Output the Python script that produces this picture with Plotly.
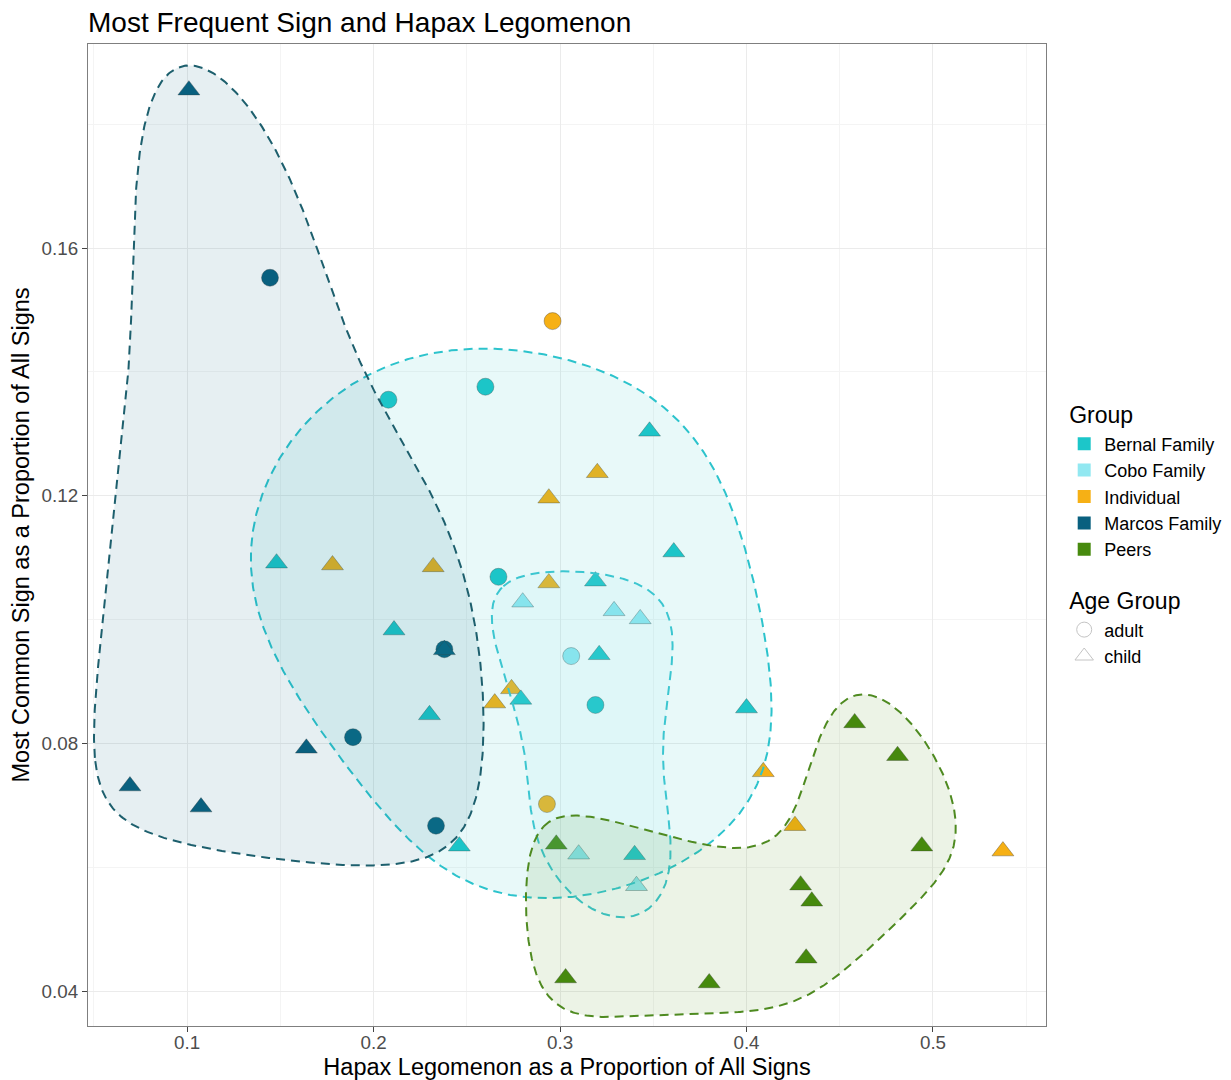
import numpy as np
import plotly.graph_objects as go

# ---------------------------------------------------------------- data ----
GROUPS = ["Bernal Family", "Cobo Family", "Individual", "Marcos Family", "Peers"]

bernal_x = [0.208, 0.260, 0.348, 0.148, 0.361, 0.267, 0.319, 0.211, 0.321,
            0.230, 0.279, 0.319, 0.400, 0.246, 0.340]
bernal_y = [0.1355, 0.1376, 0.1304, 0.1091, 0.1109, 0.1069, 0.1062, 0.0983,
            0.0943, 0.0846, 0.0871, 0.0862, 0.0857, 0.0634, 0.0620]
bernal_age = ["adult", "adult", "child", "child", "child", "adult", "child", "child",
              "child", "child", "child", "adult", "child", "child", "child"]

cobo_x = [0.280, 0.329, 0.343, 0.306, 0.310, 0.341]
cobo_y = [0.1028, 0.1014, 0.1001, 0.0941, 0.0621, 0.0570]
cobo_age = ["child", "child", "child", "adult", "child", "child"]

individual_x = [0.296, 0.320, 0.294, 0.178, 0.232, 0.294, 0.274, 0.265,
                0.293, 0.409, 0.426, 0.5375]
individual_y = [0.1482, 0.1237, 0.1196, 0.1088, 0.1085, 0.1059, 0.0888, 0.0865,
                0.0702, 0.0754, 0.0667, 0.0626]
individual_age = ["adult", "child", "child", "child", "child", "child", "child", "child",
                  "adult", "child", "child", "child"]

marcos_x = [0.101, 0.1445, 0.0694, 0.1075, 0.164, 0.189, 0.2335, 0.238, 0.238]
marcos_y = [0.1855, 0.1552, 0.0731, 0.0697, 0.0792, 0.0810, 0.0667, 0.0952, 0.0951]
marcos_age = ["child", "adult", "child", "child", "child", "adult", "adult", "adult", "child"]

peers_x = [0.458, 0.481, 0.494, 0.429, 0.435, 0.432, 0.380, 0.303, 0.298]
peers_y = [0.0833, 0.0780, 0.0634, 0.0571, 0.0545, 0.0453, 0.0413, 0.0421, 0.0637]
peers_age = ["child"] * 9

DATA = {
    "Bernal Family": (bernal_x, bernal_y, bernal_age),
    "Cobo Family": (cobo_x, cobo_y, cobo_age),
    "Individual": (individual_x, individual_y, individual_age),
    "Marcos Family": (marcos_x, marcos_y, marcos_age),
    "Peers": (peers_x, peers_y, peers_age),
}

COLORS = {
    "Bernal Family": "#1CC6C9",
    "Cobo Family": "#92E8F1",
    "Individual": "#F6B015",
    "Marcos Family": "#09607F",
    "Peers": "#478A0E",
}

# outline style per group: line colour, padding (px), Fourier harmonics kept,
# concave notches
HULL_STYLE = {
    "Bernal Family": dict(line="#2CC3CC", pad=34, harmonics=4, notches=0),
    "Cobo Family":   dict(line="#3CC6D0", pad=28, harmonics=4, notches=0),
    "Marcos Family": dict(line="#1D5F6D", pad=36, harmonics=5, notches=0),
    "Peers":         dict(line="#4E8A20", pad=36, harmonics=5, notches=1),
}

# ------------------------------------------------------------- layout -----
W, H = 1231, 1080
M_L, M_R, M_T, M_B = 88, 185, 44, 54
PLOT_W, PLOT_H = W - M_L - M_R, H - M_T - M_B
X_RANGE = [0.0469, 0.5606]
Y_RANGE = [0.03435, 0.19295]
FONT = "Liberation Sans, Arial, Helvetica, sans-serif"


def to_px(x, y):
    x = np.asarray(x, float)
    y = np.asarray(y, float)
    return np.column_stack([
        (x - X_RANGE[0]) / (X_RANGE[1] - X_RANGE[0]) * PLOT_W,
        (Y_RANGE[1] - y) / (Y_RANGE[1] - Y_RANGE[0]) * PLOT_H,
    ])


def to_data(p):
    x = X_RANGE[0] + p[:, 0] / PLOT_W * (X_RANGE[1] - X_RANGE[0])
    y = Y_RANGE[1] - p[:, 1] / PLOT_H * (Y_RANGE[1] - Y_RANGE[0])
    return x, y


def convex_hull(pts):
    order = sorted(range(len(pts)), key=lambda i: (pts[i][0], pts[i][1]))

    def cross(o, a, b):
        return (a[0] - o[0]) * (b[1] - o[1]) - (a[1] - o[1]) * (b[0] - o[0])

    lower, upper = [], []
    for i in order:
        while len(lower) >= 2 and cross(pts[lower[-2]], pts[lower[-1]], pts[i]) <= 0:
            lower.pop()
        lower.append(i)
    for i in reversed(order):
        while len(upper) >= 2 and cross(pts[upper[-2]], pts[upper[-1]], pts[i]) <= 0:
            upper.pop()
        upper.append(i)
    return lower[:-1] + upper[:-1]


def dedupe(pts, tol=4.0):
    keep = []
    for p in pts:
        if all(np.hypot(*(p - q)) > tol for q in keep):
            keep.append(p)
    return np.array(keep)


def add_notches(pts, hull, n):
    """Push the longest hull edge in towards the closest interior point."""
    for _ in range(n):
        inner = [i for i in range(len(pts)) if i not in hull]
        if not inner:
            break
        L = len(hull)
        lens = [np.hypot(*(pts[hull[(k + 1) % L]] - pts[hull[k]])) for k in range(L)]
        k = int(np.argmax(lens))
        a, b = pts[hull[k]], pts[hull[(k + 1) % L]]

        def seg_dist(p):
            ab = b - a
            t = np.clip(np.dot(p - a, ab) / np.dot(ab, ab), 0, 1)
            return np.hypot(*(p - (a + t * ab)))

        j = min(inner, key=lambda i: seg_dist(pts[i]))
        hull = hull[:k + 1] + [j] + hull[k + 1:]
    return hull


def orient(P):
    xs, ys = P[:, 0], P[:, 1]
    if 0.5 * np.sum(xs * np.roll(ys, -1) - np.roll(xs, -1) * ys) < 0:
        return P[::-1]
    return P


def offset_polygon(P, r, cap=1.15):
    n = len(P)
    out = []
    for i in range(n):
        p0, p1, p2 = P[i - 1], P[i], P[(i + 1) % n]
        d1, d2 = p1 - p0, p2 - p1
        n1 = np.array([d1[1], -d1[0]]) / np.hypot(*d1)
        n2 = np.array([d2[1], -d2[0]]) / np.hypot(*d2)
        b = n1 + n2
        b = b / np.hypot(*b)
        miter = min(np.sqrt(2.0 / (1.0 + np.dot(n1, n2))), cap)
        out.append(p1 + r * miter * b)
    return np.array(out)


def square_padded_hull(P, r):
    """Convex hull of the four corners of a square of half-size r around each point."""
    corners = np.vstack([P + np.array([sx * r, sy * r]) for sx in (-1, 1) for sy in (-1, 1)])
    return orient(corners[convex_hull(corners)])


def fourier_outline(P, harmonics, m=720):
    """Resample the closed polygon by arc length and keep only its lowest
    Fourier harmonics, which gives a smooth rounded blob."""
    Q = np.vstack([P, P[:1]])
    seg = np.hypot(*np.diff(Q, axis=0).T)
    s = np.concatenate([[0.0], np.cumsum(seg)])
    t = np.linspace(0.0, s[-1], m, endpoint=False)
    z = np.interp(t, s, Q[:, 0]) + 1j * np.interp(t, s, Q[:, 1])
    F = np.fft.fft(z)
    keep = np.zeros(m, bool)
    keep[:harmonics + 1] = True
    keep[m - harmonics:] = True
    F[~keep] = 0
    zs = np.fft.ifft(F)
    zs = np.append(zs, zs[0])
    return np.column_stack([zs.real, zs.imag])


def outline(x, y, pad, harmonics, notches):
    pts = dedupe(to_px(x, y))
    hull = convex_hull(pts)
    if notches:
        hull = add_notches(pts, hull, notches)
        P = offset_polygon(orient(pts[hull]), pad)
    else:
        P = square_padded_hull(pts[hull], pad)
    return to_data(fourier_outline(P, harmonics))


def rgba(hex_color, a):
    h = hex_color.lstrip("#")
    return "rgba(%d,%d,%d,%.3f)" % (int(h[0:2], 16), int(h[2:4], 16), int(h[4:6], 16), a)


fig = go.Figure()

# points
SYMBOL = {"adult": "circle", "child": "triangle-up"}
SIZE = {"adult": 17, "child": 19}
for g in ["Individual", "Bernal Family", "Cobo Family", "Marcos Family", "Peers"]:
    xs, ys, ages = DATA[g]
    for age in ["adult", "child"]:
        sel = [i for i, a in enumerate(ages) if a == age]
        if not sel:
            continue
        fig.add_trace(go.Scatter(
            x=[xs[i] for i in sel], y=[ys[i] for i in sel], mode="markers",
            marker=dict(symbol=SYMBOL[age], size=SIZE[age], color=COLORS[g],
                        line=dict(color="rgba(60,60,60,0.45)", width=0.8)),
            showlegend=False, hoverinfo="skip",
        ))

# group outlines, drawn over the points
for g in ["Bernal Family", "Cobo Family", "Marcos Family", "Peers"]:
    xs, ys, _ = DATA[g]
    st = HULL_STYLE[g]
    hx, hy = outline(xs, ys, st["pad"], st["harmonics"], st["notches"])
    fig.add_trace(go.Scatter(
        x=hx, y=hy, mode="lines", fill="toself",
        fillcolor=rgba(COLORS[g], 0.10),
        line=dict(color=st["line"], width=2, dash="9px,6px"),
        showlegend=False, hoverinfo="skip",
    ))

# legend entries
for g in GROUPS:
    fig.add_trace(go.Scatter(
        x=[None], y=[None], mode="markers", name=g,
        marker=dict(symbol="square", size=13, color=COLORS[g]),
        legendgroup="group", legendgrouptitle=dict(text="Group", font=dict(size=23, color="black")),
    ))
for age, sym, sz in [("adult", "circle-open", 15), ("child", "triangle-up-open", 17)]:
    fig.add_trace(go.Scatter(
        x=[None], y=[None], mode="markers", name=age,
        marker=dict(symbol=sym, size=sz, color="#c4c4c4", line=dict(width=1)),
        legendgroup="age", legendgrouptitle=dict(text="Age Group", font=dict(size=23, color="black")),
    ))

axis_common = dict(
    showgrid=True, gridcolor="#ebebeb", gridwidth=1.3,
    zeroline=False, showline=True, mirror=True, linecolor="#7f7f7f", linewidth=1.2,
    ticks="outside", ticklen=5, tickwidth=1.1, tickcolor="#444444",
    tickfont=dict(size=18.8, color="#4d4d4d", family=FONT),
    automargin=False,
)

fig.update_layout(
    width=W, height=H,
    margin=dict(l=M_L, r=M_R, t=M_T, b=M_B, autoexpand=False),
    paper_bgcolor="white", plot_bgcolor="white",
    font=dict(family=FONT, color="black"),
    title=dict(text="Most Frequent Sign and Hapax Legomenon", font=dict(size=28, color="black"),
               x=0, xref="paper", xanchor="left", y=1 - 22 / H, yref="container", yanchor="middle"),
    xaxis=dict(range=X_RANGE, tick0=0.1, dtick=0.1, ticklabelstandoff=-6,
               minor=dict(tick0=0.05, dtick=0.1, showgrid=True, gridcolor="#f4f4f4", gridwidth=0.8),
               title=dict(text="Hapax Legomenon as a Proportion of All Signs",
                          font=dict(size=23.5, color="black"), standoff=8),
               **axis_common),
    yaxis=dict(range=Y_RANGE, tick0=0, dtick=0.04, tickformat=".2f",
               minor=dict(tick0=0.02, dtick=0.04, showgrid=True, gridcolor="#f4f4f4", gridwidth=0.8),
               title=dict(text="Most Common Sign as a Proportion of All Signs",
                          font=dict(size=23.5, color="black"), standoff=5),
               **axis_common),
    legend=dict(x=1.019, xanchor="left", y=0.645, yanchor="top",
                font=dict(size=18, color="black"), tracegroupgap=21,
                itemsizing="trace", bgcolor="rgba(0,0,0,0)"),
)

fig.write_html("out.html")
